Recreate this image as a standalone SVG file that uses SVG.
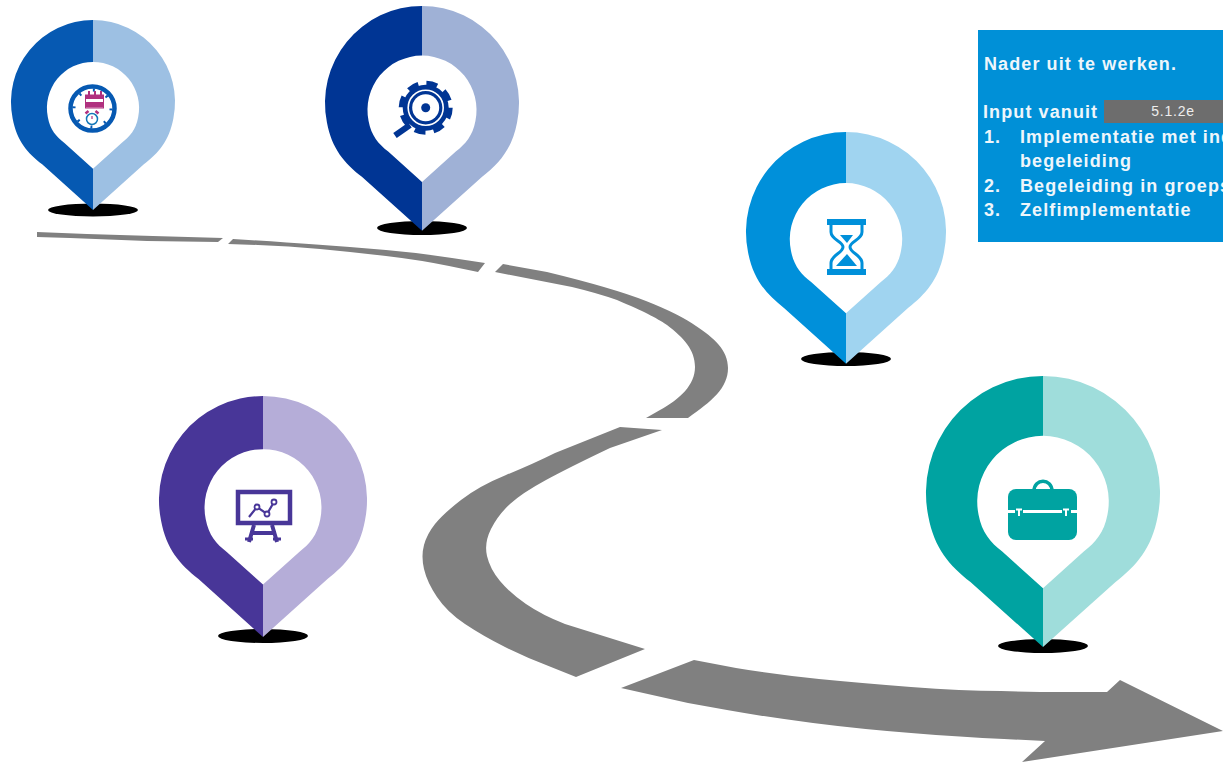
<svg xmlns="http://www.w3.org/2000/svg" width="1223" height="764" viewBox="0 0 1223 764">
<style>
.road{fill:#808080}
.shadow{fill:#000}
.inner{fill:#fff}
.t{font-family:"Liberation Sans",Arial,sans-serif;font-weight:bold;font-size:18px;fill:#eef6fb;letter-spacing:1.1px}
.c1{fill:#0659b2}.l1{fill:#9dc0e3}
.c2{fill:#003594}.l2{fill:#9fb1d6}
.c3{fill:#0090da}.l3{fill:#a0d4f0}
.c4{fill:#483698}.l4{fill:#b5add8}
.c5{fill:#00a3a1}.l5{fill:#9fdddb}
</style>
<defs>
<path id="L" d="M0,-1A1,1 0 0 0 -.98,.2C-.93,.47 -.8,.62 -.62,.76L0,1.317Z"/>
<path id="R" d="M0,-1A1,1 0 0 1 .98,.2C.93,.47 .8,.62 .62,.76L0,1.317Z"/>
<g id="I"><use href="#L" class="inner" transform="translate(0,.073) scale(.562)"/><use href="#R" class="inner" transform="translate(0,.073) scale(.562)"/></g>
</defs>
<rect width="1223" height="764" fill="#fff"/>
<g id="connectors">
<polygon class="road" points="37,232 87,234 153,236 223,238 218,242 147,241 70,238 37,237"/>
<path class="road" d="M233,239Q280,242 316,244.500T386,250T452,258L485,263 478,272 449,266Q420,260 386,256T320,249T258,245L228,244Z"/>
<path class="road" d="M503,264L547,272Q613,288 646,301T696,326C714,338 728,350 728,368C728,388 712,401 688,418H646L660,410C680,399 695,385 695,367C695,350 684,338 667,325C655,317 645,312 617,300Q597,293 572,287L495,272Z"/>
<path class="road" d="M620,427 662,430 610,448Q570,467 546,480T510,504T491,529T487,556T500,581T526,604T565,624L645,649 576,677 551,667Q527,658 505,647T465,624T437,597T424,569T424,545T435,524T461,500T506,475T555,453Z"/>
<path class="road" d="M621,688 694,660 736,668Q778,675 819,679T911,687T1001,691L1040,692H1107L1120,680 1223,731 1022,762 1045,741 1004,739Q962,737 911,733T813,723T727,710L688,703Z"/>
</g>
<g id="node-1">
<ellipse class="shadow" cx="93" cy="210" rx="45" ry="6.500"/>
<g transform="translate(93,102) scale(82)"><use href="#L" class="c1"/><use href="#R" class="l1"/><use href="#I"/></g>
<circle cx="92.500" cy="108.500" r="22" fill="none" stroke="#0659b2" stroke-width="4.500"/>
<circle cx="92.500" cy="108.500" r="18.500" fill="none" stroke="#0659b2" stroke-width="3" stroke-dasharray="2 12.500"/>
<rect x="85.500" y="95" width="18" height="13" fill="#fff" stroke="#b0307f" stroke-width="1"/>
<rect x="85.500" y="95" width="18" height="4" fill="#b0307f"/>
<rect x="85.500" y="102" width="18" height="5.500" fill="#b0307f"/>
<path d="M89,91V95M95,91V95M101,91V95" stroke="#b0307f" stroke-width="2"/>
<circle cx="92" cy="119" r="5.500" fill="#fff" stroke="#1277b8" stroke-width="1.500"/>
<path d="M92,116V119" stroke="#b0307f" stroke-width="1.200"/>
<path d="M85.500,113.500 88.500,111M98.500,113.500 95.500,111" stroke="#b0307f" stroke-width="2.500"/>
</g>
<g id="node-2">
<ellipse class="shadow" cx="422" cy="228" rx="45" ry="7"/>
<g transform="translate(422,103) scale(97)"><use href="#L" class="c2"/><use href="#R" class="l2"/><use href="#I"/></g>
<circle cx="425.700" cy="107.700" r="23" fill="#003594"/>
<circle cx="425.700" cy="107.700" r="24.500" fill="none" stroke="#003594" stroke-width="5" stroke-dasharray="11 8.240"/>
<circle cx="425.700" cy="107.700" r="17.500" fill="none" stroke="#fff" stroke-width="1.600"/>
<circle cx="425.700" cy="107.700" r="13.500" fill="#fff"/>
<circle cx="425.700" cy="107.700" r="4.500" fill="#003594"/>
<path d="M410,125 395,135.500" stroke="#003594" stroke-width="6"/>
</g>
<g id="node-3">
<ellipse class="shadow" cx="846" cy="359" rx="45" ry="7"/>
<g transform="translate(846,232) scale(100)"><use href="#L" class="c3"/><use href="#R" class="l3"/><use href="#I"/></g>
<rect x="827" y="219" width="39" height="6" fill="#0090da"/>
<rect x="827" y="269" width="39" height="6" fill="#0090da"/>
<path d="M831,225V232C831,240 843,241 843,247C843,253 831,255 831,263V269M862,225V232C862,240 850,241 850,247C850,253 862,255 862,263V269" fill="none" stroke="#0090da" stroke-width="3"/>
<polygon points="840,235 853,235 847,243" fill="#0090da"/>
<polygon points="836,266 857,266 847,254" fill="#0090da"/>
</g>
<g id="node-4">
<ellipse class="shadow" cx="263" cy="636" rx="45" ry="7"/>
<g transform="translate(263,500) scale(104)"><use href="#L" class="c4"/><use href="#R" class="l4"/><use href="#I"/></g>
<rect x="238" y="492" width="52" height="31" fill="#fff" stroke="#483698" stroke-width="4.500"/>
<polyline points="249,517 257,507 267,514 274,502" fill="none" stroke="#483698" stroke-width="2.200"/>
<circle cx="257" cy="507" r="2.500" fill="#fff" stroke="#483698" stroke-width="1.800"/>
<circle cx="267" cy="514" r="2.500" fill="#fff" stroke="#483698" stroke-width="1.800"/>
<circle cx="274" cy="502" r="2.500" fill="#fff" stroke="#483698" stroke-width="1.800"/>
<path d="M254,525 249,542M272,525 277,542M250,533H276" fill="none" stroke="#483698" stroke-width="4"/>
<path d="M245,539H253M273,539H281" stroke="#483698" stroke-width="3"/>
</g>
<g id="node-5">
<ellipse class="shadow" cx="1043" cy="646" rx="45" ry="7"/>
<g transform="translate(1043,493) scale(117)"><use href="#L" class="c5"/><use href="#R" class="l5"/><use href="#I"/></g>
<path d="M1034,491C1034,478 1052,478 1052,491" fill="none" stroke="#00a3a1" stroke-width="3.500"/>
<rect x="1008" y="489" width="69" height="51" rx="8" fill="#00a3a1"/>
<path d="M1008,511.500H1015M1023,511.500H1062M1071,511.500H1077" stroke="#fff" stroke-width="3"/>
<path d="M1019,510V516M1066,510V516" stroke="#fff" stroke-width="2"/>
<path d="M1016,509.500H1022M1063,509.500H1069" stroke="#fff" stroke-width="2"/>
</g>
<g id="note">
<rect x="978" y="30" width="245" height="212" fill="#0090d7"/>
<text class="t" x="984" y="70">Nader uit te werken.</text>
<text class="t" x="983" y="118">Input vanuit</text>
<rect x="1104" y="100" width="119" height="23" fill="#6d6d6d"/>
<text x="1173" y="116" text-anchor="middle" font-family="'Liberation Sans',Arial,sans-serif" font-size="14" fill="#eeeeee" letter-spacing=".8">5.1.2e</text>
<text class="t" x="984" y="143">1.</text>
<text class="t" x="1020" y="143">Implementatie met ind</text>
<text class="t" x="1020" y="167">begeleiding</text>
<text class="t" x="984" y="192">2.</text>
<text class="t" x="1020" y="192">Begeleiding in groeps</text>
<text class="t" x="984" y="216">3.</text>
<text class="t" x="1020" y="216">Zelfimplementatie</text>
</g>
</svg>
